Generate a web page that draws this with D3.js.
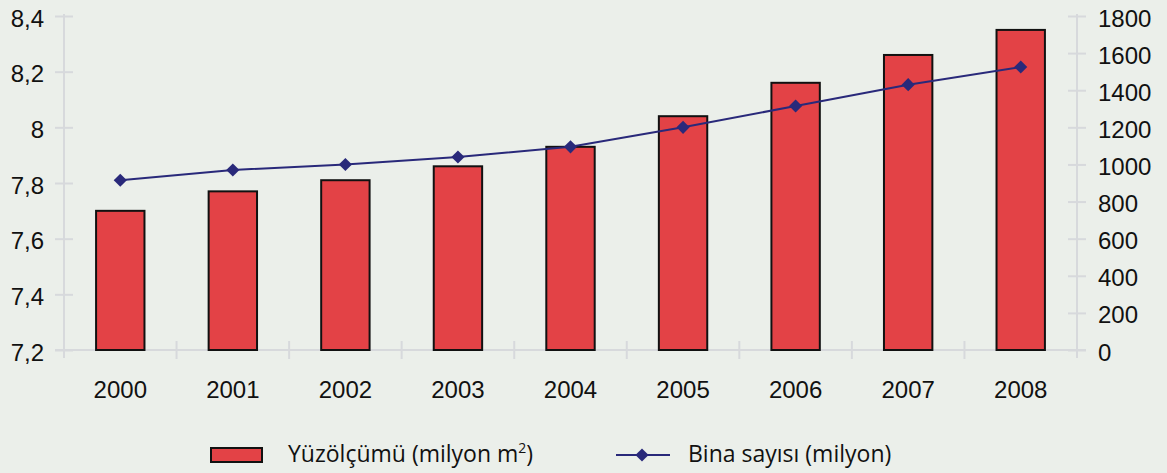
<!DOCTYPE html>
<html>
<head>
<meta charset="utf-8">
<script src="https://cdn.jsdelivr.net/npm/d3@7"></script>
<style>
  html, body { margin: 0; padding: 0; background: #ebefea; }
  svg { display: block; }
</style>
</head>
<body>
<svg id="chart" width="1167" height="473"></svg>
<script>
// Years on the category axis
const years = ["2000", "2001", "2002", "2003", "2004", "2005", "2006", "2007", "2008"];
// Floor area (million m²), left axis
const floorArea = [7.70, 7.77, 7.81, 7.86, 7.93, 8.04, 8.16, 8.26, 8.35];
// Number of buildings (million), right axis
const buildingCount = [915, 970, 1000, 1040, 1095, 1200, 1315, 1430, 1525];
// Tick values for both axes
const leftTicks = [7.2, 7.4, 7.6, 7.8, 8.0, 8.2, 8.4];
const rightTicks = [0, 200, 400, 600, 800, 1000, 1200, 1400, 1600, 1800];

const svg = d3.select("#chart");
const margin = { left: 64, right: 1077, top: 16, bottom: 350 };
const font = "Liberation Sans, Arial, Helvetica, sans-serif";
const axisColor = "#d7d9dc";
const barColor = "#e34246";
const lineColor = "#29297a";
const labelSize = 24;

const x = d3.scaleBand().domain(years).range([margin.left, margin.right]).paddingInner(0.57).paddingOuter(0.285);
const xEdges = d3.scaleBand().domain(years).range([margin.left, margin.right]);
const yL = d3.scaleLinear().domain([7.2, 8.4]).range([margin.bottom, margin.top]);
const yR = d3.scaleLinear().domain([0, 1800]).range([margin.bottom, margin.top]);

const fmtL = v => d3.format("~g")(v).replace(".", ",");

// Left axis
const gL = svg.append("g").attr("transform", `translate(${margin.left},0)`)
  .call(d3.axisLeft(yL).tickValues(leftTicks).tickFormat(fmtL).tickSize(0).tickPadding(20));
gL.select(".domain").attr("stroke", axisColor).attr("stroke-width", 2)
  .attr("d", `M0,${margin.top - 2}V${margin.bottom + 8}`);
gL.selectAll(".tick line").attr("x1", -9).attr("x2", 9).attr("stroke", axisColor).attr("stroke-width", 2);
gL.selectAll(".tick text").attr("font-family", font).attr("font-size", labelSize).attr("fill", "#111").attr("dy", "0.42em");

// Right axis
const gR = svg.append("g").attr("transform", `translate(${margin.right},0)`)
  .call(d3.axisRight(yR).tickValues(rightTicks).tickFormat(d3.format("d")).tickSize(0).tickPadding(21));
gR.select(".domain").attr("stroke", axisColor).attr("stroke-width", 2)
  .attr("d", `M0,${margin.top - 2}V${margin.bottom + 8}`);
gR.selectAll(".tick line").attr("x1", -9).attr("x2", 9).attr("stroke", axisColor).attr("stroke-width", 2);
gR.selectAll(".tick text").attr("font-family", font).attr("font-size", labelSize).attr("fill", "#111").attr("dy", "0.42em");

// Category axis
const gX = svg.append("g").attr("transform", `translate(0,${margin.bottom})`)
  .call(d3.axisBottom(x).tickSize(0).tickPadding(31));
gX.select(".domain").attr("stroke", axisColor).attr("stroke-width", 2)
  .attr("d", `M${margin.left - 9},0H${margin.right + 9}`);
gX.selectAll(".tick text").attr("font-family", font).attr("font-size", labelSize).attr("fill", "#111");
gX.append("g").selectAll("line")
  .data(years.slice(1))
  .join("line")
  .attr("x1", d => xEdges(d)).attr("x2", d => xEdges(d))
  .attr("y1", -9).attr("y2", 9)
  .attr("stroke", axisColor).attr("stroke-width", 2);

// Bars
svg.append("g").selectAll("rect")
  .data(years)
  .join("rect")
  .attr("x", d => x(d))
  .attr("width", x.bandwidth())
  .attr("y", (d, i) => yL(floorArea[i]))
  .attr("height", (d, i) => yL(7.2) - yL(floorArea[i]))
  .attr("fill", barColor)
  .attr("stroke", "#111")
  .attr("stroke-width", 2);

// Line with diamond markers
const cx = d => x(d) + x.bandwidth() / 2;
svg.append("path")
  .datum(years)
  .attr("fill", "none")
  .attr("stroke", lineColor)
  .attr("stroke-width", 2)
  .attr("d", d3.line().x(d => cx(d)).y((d, i) => yR(buildingCount[i])));

const diamond = d3.symbol().type(d3.symbolDiamond2).size(110);
svg.append("g").selectAll("path")
  .data(years)
  .join("path")
  .attr("transform", (d, i) => `translate(${cx(d)},${yR(buildingCount[i])})`)
  .attr("d", diamond)
  .attr("fill", lineColor);

// Legend
const legendFont = "'Open Sans', 'Noto Sans', sans-serif";
const legendSize = 23;
const lg = svg.append("g");
lg.append("rect").attr("x", 211).attr("y", 448).attr("width", 51).attr("height", 14)
  .attr("fill", barColor).attr("stroke", "#111").attr("stroke-width", 2);
const t1 = lg.append("text").attr("x", 288).attr("y", 462)
  .attr("font-family", legendFont).attr("font-size", legendSize).attr("fill", "#111");
t1.append("tspan").text("Yüzölçümü (milyon m");
t1.append("tspan").attr("dy", -9).attr("font-size", 14).text("2");
t1.append("tspan").attr("dy", 9).text(")");

lg.append("line").attr("x1", 616).attr("x2", 670).attr("y1", 455).attr("y2", 455)
  .attr("stroke", lineColor).attr("stroke-width", 2);
lg.append("path").attr("transform", "translate(642,455)").attr("d", diamond).attr("fill", lineColor);
lg.append("text").attr("x", 688).attr("y", 462)
  .attr("font-family", legendFont).attr("font-size", legendSize).attr("fill", "#111")
  .text("Bina sayısı (milyon)");
</script>
</body>
</html>
